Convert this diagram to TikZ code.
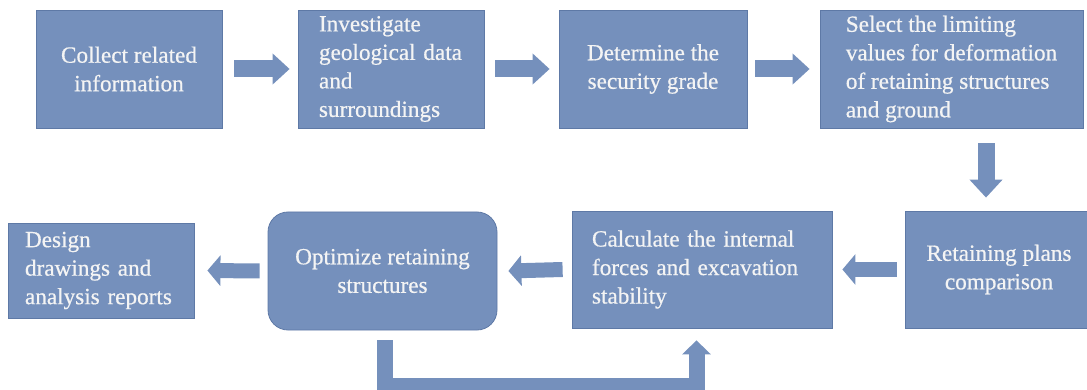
\documentclass[tikz,border=0pt]{standalone}
\usepackage{fontspec}
\setmainfont{Liberation Serif}
\newfontfamily\boxfont{Liberation Serif}[FakeBold=0.6]
\usetikzlibrary{arrows.meta,calc}
\definecolor{boxfill}{HTML}{7590BC}
\definecolor{boxline}{HTML}{5E79A6}
\definecolor{txt}{HTML}{F4F4F4}
\tikzset{
  box/.style={draw=boxline, line width=0.8pt, fill=boxfill, text=txt,
    font=\boxfont\fontsize{23.2}{28.5}\selectfont, inner sep=0pt},
  flow/.style={draw=boxfill, line width=17pt, -{Triangle[length=17pt,width=30pt]}},
  flowb/.style={draw=boxfill, line width=15pt, -{Triangle[length=13pt,width=30pt]}},
  flowc/.style={draw=boxfill, line width=16pt, line join=miter, -{Triangle[length=14pt,width=28pt]}},
}
\begin{document}
\begin{tikzpicture}[x=1pt,y=-1pt]
\useasboundingbox (0,0) rectangle (1087,390);
% top row
\node[box, minimum width=186pt, minimum height=118pt, align=center] (b1) at (129,69)
  {Collect related\\information};
\node[box, minimum width=186pt, minimum height=118pt, text width=144pt, align=left] (b2) at (391,69)
  {Investigate\\geological data\\and\\surroundings};
\node[box, minimum width=188pt, minimum height=118pt, align=center] (b3) at (653,69)
  {Determine the\\security grade};
\node[box, minimum width=263pt, minimum height=118pt, align=left] (b4) at (951.5,69)
  {Select the limiting\\values for deformation\\of retaining structures\\and ground};
% bottom row
\node[box, minimum width=188pt, minimum height=117pt, align=center] (b5) at (999,269.5)
  {Retaining plans\\comparison};
\node[box, minimum width=260pt, minimum height=117pt, text width=220pt, align=left] (b6) at (702,269.5)
  {Calculate the internal\\forces and excavation\\stability};
\node[box, minimum width=229pt, minimum height=118pt, rounded corners=20pt, align=center] (b7) at (382.5,271)
  {Optimize retaining\\structures};
\node[box, minimum width=186pt, minimum height=95pt, text width=152pt, align=left] (b8) at (101,270.5)
  {Design\\drawings and\\analysis reports};
% connectors
\draw[flow] ($(b1.east)+(12,0)$) -- ($(b2.west)+(-8,0)$);
\draw[flow] ($(b2.east)+(11,0)$) -- ($(b3.west)+(-9,0)$);
\draw[flow] ($(b3.east)+(8,0)$) -- ($(b4.west)+(-10,0)$);
\draw[flow, -{Triangle[length=18pt,width=32pt]}] ($(b4.south)+(34.5,15)$) -- ($(b5.north)+(-13,-13)$);
\draw[flowb] ($(b5.west)+(-8,0)$) -- ($(b6.east)+(10,0)$);
\draw[flowb] ($(b6.west)+(-9,0)$) -- ($(b7.east)+(11,0)$);
\draw[flowb] ($(b7.west)+(-8,0)$) -- ($(b8.east)+(13,0)$);
\draw[flowc] ($(b7.south)+(2,10)$) -- ++(0,46) -| ($(b6.south)+(-5.5,12)$);
\end{tikzpicture}
\end{document}
